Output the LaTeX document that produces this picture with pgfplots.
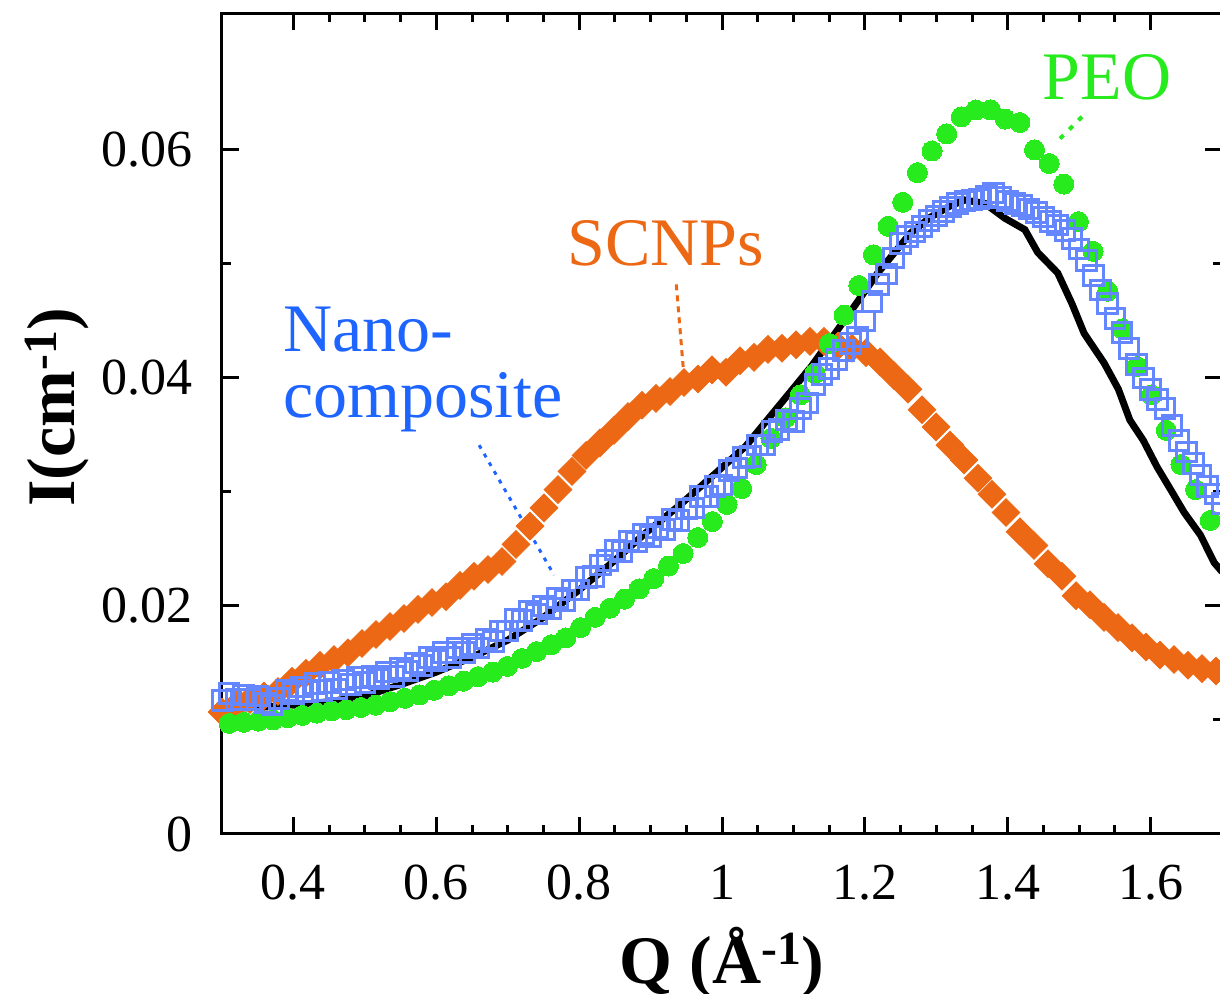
\documentclass[border=0pt]{standalone}
\usepackage{fontspec}
\setmainfont{Liberation Serif}
\usepackage{pgfplots}
\pgfplotsset{compat=1.18}
\usetikzlibrary{calc}
\definecolor{scnp}{RGB}{236,104,20}
\definecolor{peo}{RGB}{40,235,30}
\definecolor{nano}{RGB}{100,135,255}
\definecolor{nanotxt}{RGB}{30,100,255}
\begin{document}
\begin{tikzpicture}
\begin{axis}[
  name=ax,
  scale only axis,
  width=500pt, height=410.5pt,
  xmin=0.3, xmax=1.7, ymin=0, ymax=0.072,
  axis line style={line width=1.5pt},
  every tick/.style={line width=1.5pt, black},
  tick align=inside,
  major tick length=8.5pt, minor tick length=4.5pt,
  xtick={0.4,0.6,0.8,1,1.2,1.4,1.6},
  xticklabels={0.4,0.6,0.8,1,1.2,1.4,1.6},
  ytick={0,0.02,0.04,0.06},
  yticklabels={0,0.02,0.04,0.06},
  minor x tick num=3, minor y tick num=1,
  ticklabel style={font=\fontsize{26}{31}\selectfont},
  xticklabel style={anchor=north, inner sep=0pt, yshift=-15.5pt},
  yticklabel style={anchor=east, inner sep=0pt, xshift=-14.5pt},
  xlabel={\textbf{Q (Å\textsuperscript{-1})}},
  ylabel={\textbf{I(cm\textsuperscript{-1})}},
  label style={font=\fontsize{34}{40}\selectfont},
  xlabel style={at={(axis description cs:0.5,-0.1815)}, anchor=base, inner sep=0pt},
  ylabel style={at={(axis description cs:-0.197,0.52)}, anchor=north, inner sep=0pt},
  clip=true,
]
% SCNPs
\addplot[scnp, only marks, mark=square*, mark size=4.9pt,
  mark options={rotate=45, fill=scnp, draw=scnp, line width=0.4pt}] coordinates {
(0.300,0.0107)(0.3196,0.0113)(0.3392,0.0118)(0.3588,0.0121)(0.3784,0.0125)
(0.398,0.0134)(0.4176,0.0141)(0.4372,0.0148)(0.4568,0.0153)(0.4764,0.0159)
(0.496,0.0167)(0.5156,0.0175)(0.5352,0.0182)(0.5548,0.0189)(0.5744,0.0197)
(0.594,0.0203)(0.6136,0.0208)(0.6332,0.0218)(0.6528,0.0226)(0.6724,0.0232)
(0.692,0.0239)(0.7116,0.0254)(0.7312,0.0270)(0.7508,0.0286)(0.7704,0.0302)
(0.790,0.0318)(0.8096,0.0332)(0.8292,0.0343)(0.8488,0.0354)(0.8684,0.0366)
(0.888,0.0376)(0.9076,0.0382)(0.9272,0.0388)(0.9468,0.0396)(0.9664,0.0399)
(0.986,0.0407)(1.0056,0.0405)(1.0252,0.0415)(1.0448,0.0418)(1.0644,0.0425)
(1.084,0.0426)(1.1036,0.0429)(1.1232,0.0432)(1.1428,0.0432)(1.1624,0.0428)
(1.182,0.0426)(1.2016,0.0422)(1.2212,0.0414)(1.2408,0.0402)(1.2604,0.0390)
(1.280,0.0372)(1.2996,0.0357)(1.3192,0.0341)(1.3388,0.0328)(1.3584,0.0312)
(1.378,0.0298)(1.3976,0.0282)(1.4172,0.0265)(1.4368,0.0253)(1.4564,0.0237)
(1.476,0.0226)(1.4956,0.0209)(1.5152,0.0201)(1.5348,0.0190)(1.5544,0.0181)
(1.574,0.0172)(1.5936,0.0164)(1.6132,0.0157)(1.6328,0.0153)(1.6524,0.0148)
(1.672,0.0145)(1.6916,0.0143)
};
% PEO
\addplot[peo, only marks, mark=*, mark size=5pt, mark options={fill=peo, draw=peo, line width=0pt}] coordinates {
(0.310,0.0097)(0.3305,0.0098)(0.351,0.0099)(0.3715,0.0100)(0.392,0.0102)
(0.4125,0.0104)(0.433,0.0106)(0.4535,0.0108)(0.474,0.0109)(0.4945,0.0111)
(0.515,0.0113)(0.5355,0.0116)(0.556,0.0119)(0.5765,0.0122)(0.597,0.0126)
(0.6175,0.0130)(0.638,0.0134)(0.6585,0.0138)(0.679,0.0142)(0.6995,0.0147)
(0.720,0.0154)(0.7405,0.0160)(0.761,0.0166)(0.7815,0.0172)(0.802,0.0181)
(0.8225,0.0190)(0.843,0.0198)(0.8635,0.0206)(0.884,0.0215)(0.9045,0.0224)
(0.925,0.0235)(0.9455,0.0246)(0.966,0.0260)(0.9865,0.0274)(1.007,0.0289)
(1.0275,0.0303)(1.048,0.0324)(1.0685,0.0347)(1.089,0.0365)(1.1095,0.0385)
(1.130,0.0404)(1.1505,0.0430)(1.171,0.0455)(1.1915,0.0481)(1.212,0.0508)
(1.2325,0.0533)(1.253,0.0554)(1.2735,0.0580)(1.294,0.0599)(1.3145,0.0614)
(1.335,0.0629)(1.3555,0.0635)(1.376,0.0635)(1.3965,0.0627)(1.417,0.0624)
(1.4375,0.0600)(1.458,0.0588)(1.4785,0.0570)(1.499,0.0537)(1.5195,0.0511)
(1.540,0.0476)(1.5605,0.0443)(1.581,0.0410)(1.6015,0.0385)(1.622,0.0354)
(1.6425,0.0324)(1.663,0.0302)(1.6835,0.0275)(1.704,0.0250)
};
% fit line
\addplot[black, line width=3.5pt, no marks] coordinates {
(0.30,0.0110)(0.35,0.0111)(0.40,0.0113)(0.45,0.0116)(0.50,0.0121)
(0.55,0.0131)(0.60,0.0142)(0.65,0.0155)(0.70,0.0170)(0.75,0.0190)
(0.80,0.0214)(0.85,0.0240)(0.893,0.0264)(0.94,0.0288)(0.985,0.0313)
(1.033,0.0340)(1.079,0.0375)(1.125,0.0410)(1.172,0.0451)(1.218,0.0492)
(1.264,0.0527)(1.292,0.0541)(1.32,0.0551)(1.34,0.0556)(1.368,0.0553)
(1.396,0.0540)(1.424,0.0530)(1.442,0.0510)(1.47,0.0492)(1.49,0.0465)
(1.507,0.0439)(1.535,0.0413)(1.555,0.0390)(1.571,0.0363)(1.59,0.0345)
(1.609,0.0322)(1.63,0.0300)(1.647,0.0282)(1.67,0.0262)(1.689,0.0238)
(1.70,0.0230)
};
% Nanocomposite
\addplot[nano, only marks, mark=square, mark size=4.9pt, mark options={draw=nano, line width=1.5pt}] coordinates {
(0.30,0.0117)(0.31,0.0123)(0.32,0.0118)(0.33,0.0122)(0.34,0.0118)
(0.35,0.0121)(0.36,0.0115)(0.37,0.0113)(0.38,0.0119)(0.39,0.0126)
(0.40,0.0123)(0.41,0.0129)(0.42,0.0125)(0.43,0.0132)(0.44,0.0126)
(0.45,0.0133)(0.46,0.0127)(0.47,0.0135)(0.48,0.0131)(0.49,0.0137)
(0.50,0.0133)(0.51,0.0138)(0.52,0.0136)(0.53,0.0142)(0.54,0.0138)
(0.55,0.0145)(0.56,0.0143)(0.57,0.0150)(0.58,0.0148)(0.59,0.0155)
(0.60,0.0152)(0.61,0.0159)(0.62,0.0155)(0.63,0.0163)(0.64,0.0159)
(0.65,0.0166)(0.66,0.0163)(0.67,0.0171)(0.68,0.0169)(0.69,0.0178)
(0.70,0.0178)(0.71,0.0188)(0.72,0.0187)(0.73,0.0195)(0.74,0.0193)
(0.75,0.0200)(0.76,0.0198)(0.77,0.0207)(0.78,0.0205)(0.79,0.0214)
(0.80,0.0214)(0.81,0.0225)(0.82,0.0226)(0.83,0.0236)(0.84,0.0240)
(0.85,0.0249)(0.86,0.0248)(0.87,0.0257)(0.88,0.0256)(0.89,0.0263)
(0.90,0.0261)(0.91,0.0269)(0.92,0.0267)(0.93,0.0276)(0.94,0.0275)
(0.95,0.0285)(0.96,0.0286)(0.97,0.0296)(0.98,0.0296)(0.99,0.0305)
(1.00,0.0306)(1.01,0.0319)(1.02,0.0321)(1.03,0.0330)(1.04,0.0331)
(1.05,0.0341)(1.06,0.0341)(1.07,0.0353)(1.08,0.0355)(1.09,0.0363)
(1.10,0.0362)(1.11,0.0373)(1.12,0.0378)(1.13,0.0394)(1.14,0.0403)
(1.15,0.0408)(1.16,0.0416)(1.17,0.0424)(1.18,0.0430)(1.19,0.0436)
(1.20,0.0450)(1.21,0.0467)(1.22,0.0482)(1.23,0.0491)(1.24,0.0505)
(1.25,0.0518)(1.26,0.0524)(1.27,0.0528)(1.28,0.0533)(1.29,0.0538)
(1.30,0.0542)(1.31,0.0546)(1.32,0.0550)(1.33,0.0553)(1.34,0.0555)
(1.35,0.0556)(1.36,0.0557)(1.37,0.0559)(1.38,0.0562)(1.39,0.0558)
(1.40,0.0555)(1.41,0.0553)(1.42,0.0551)(1.43,0.0548)(1.44,0.0545)
(1.45,0.0541)(1.46,0.0537)(1.47,0.0534)(1.48,0.0529)(1.49,0.0522)
(1.50,0.0513)(1.51,0.0503)(1.52,0.0490)(1.53,0.0477)(1.54,0.0465)
(1.55,0.0452)(1.56,0.0440)(1.57,0.0426)(1.58,0.0412)(1.59,0.0400)
(1.60,0.0390)(1.61,0.0381)(1.62,0.0373)(1.63,0.0358)(1.64,0.0345)
(1.65,0.0335)(1.66,0.0325)(1.67,0.0315)(1.68,0.0305)(1.69,0.0298)
(1.70,0.0290)
};
% annotations
\draw[peo, line width=2pt, dash pattern=on 2.5pt off 4pt] (axis cs:1.504,0.0629) -- (axis cs:1.467,0.0606);
\draw[scnp, line width=1.5pt, dash pattern=on 3pt off 2.5pt] (axis cs:0.936,0.0482) -- (axis cs:0.946,0.0407);
\draw[nanotxt, line width=1.5pt, dash pattern=on 2pt off 3pt] (axis cs:0.660,0.0341) -- (axis cs:0.765,0.0227);
\node[anchor=base, inner sep=0pt, text=peo, font=\fontsize{34}{40}\selectfont] at (axis cs:1.539,0.0644) {PEO};
\node[anchor=base, inner sep=0pt, text=scnp, font=\fontsize{34}{40}\selectfont] at (axis cs:0.921,0.0499) {SCNPs};
\node[anchor=base west, inner sep=0pt, text=nanotxt, font=\fontsize{34}{40}\selectfont] at (axis cs:0.385,0.0423) {Nano-};
\node[anchor=base west, inner sep=0pt, text=nanotxt, font=\fontsize{34}{40}\selectfont] at (axis cs:0.385,0.0365) {composite};
\end{axis}
\pgfresetboundingbox
\path[use as bounding box] ($(ax.south west)+(-111pt,-80pt)$) rectangle ($(ax.north east)+(-1pt,6.5pt)$);
\end{tikzpicture}
\end{document}
